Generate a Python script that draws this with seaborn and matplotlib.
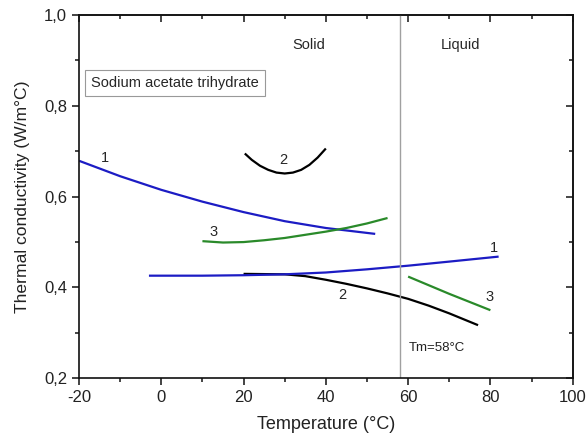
import matplotlib
matplotlib.use("Agg")
import matplotlib.pyplot as plt
import matplotlib.ticker as mticker
import numpy as np
import pandas as pd
import seaborn as sns

# Thermal conductivity of sodium acetate trihydrate vs temperature (three sources)
src1_solid_t = [-20, -10, 0, 10, 20, 30, 40, 52]
src1_solid_k = [0.679, 0.645, 0.615, 0.589, 0.566, 0.546, 0.531, 0.518]

src2_solid_t = [20.3, 22, 24, 26, 28, 30, 32, 34, 36, 38, 40]
src2_solid_k = [0.695, 0.681, 0.668, 0.659, 0.653, 0.651, 0.653, 0.659, 0.670, 0.686, 0.706]

src3_solid_t = [10, 15, 20, 25, 30, 35, 40, 45, 50, 55]
src3_solid_k = [0.502, 0.499, 0.500, 0.504, 0.509, 0.516, 0.523, 0.531, 0.541, 0.553]

src1_liq_t = [-3, 10, 20, 30, 40, 50, 60, 70, 82]
src1_liq_k = [0.426, 0.426, 0.427, 0.429, 0.433, 0.440, 0.448, 0.457, 0.468]

src2_liq_t = [20, 30, 35, 40, 45, 50, 55, 60, 65, 70, 77]
src2_liq_k = [0.430, 0.429, 0.425, 0.417, 0.408, 0.398, 0.387, 0.375, 0.360, 0.343, 0.317]

src3_liq_t = [60, 70, 80]
src3_liq_k = [0.424, 0.386, 0.350]

melting_point = 58

x_ticks = [-20, 0, 20, 40, 60, 80, 100]
y_ticks = [0.2, 0.4, 0.6, 0.8, 1.0]

BLUE = "#1c1cc4"
BLACK = "#000000"
GREEN = "#2a8a2a"

sns.set_style("ticks")
plt.rcParams["font.family"] = ["Liberation Sans", "DejaVu Sans"]
plt.rcParams["axes.linewidth"] = 1.2
plt.rcParams["axes.unicode_minus"] = False

fig = plt.figure(figsize=(5.87, 4.36), dpi=100)
ax = fig.add_axes([0.1346, 0.1323, 0.841, 0.8333])

curves = [
    (src1_solid_t, src1_solid_k, BLUE),
    (src2_solid_t, src2_solid_k, BLACK),
    (src3_solid_t, src3_solid_k, GREEN),
    (src2_liq_t, src2_liq_k, BLACK),
    (src1_liq_t, src1_liq_k, BLUE),
    (src3_liq_t, src3_liq_k, GREEN),
]
for t, k, c in curves:
    df = pd.DataFrame({"T": t, "k": k})
    sns.lineplot(data=df, x="T", y="k", color=c, lw=1.6, ax=ax, sort=False)
for ln in ax.get_lines():
    ln.set_solid_joinstyle("round")
    ln.set_solid_capstyle("butt")

ax.axvline(melting_point, color="#a0a0a0", lw=1.0)

ax.set_xlim(-20, 100)
ax.set_ylim(0.2, 1.0)
ax.set_xticks(x_ticks)
ax.set_yticks(y_ticks)
ax.xaxis.set_minor_locator(mticker.MultipleLocator(10))
ax.yaxis.set_minor_locator(mticker.MultipleLocator(0.1))
ax.yaxis.set_major_formatter(mticker.FuncFormatter(lambda v, p: f"{v:.1f}".replace(".", ",")))
ax.tick_params(which="major", direction="out", length=5, width=1.2, labelsize=12, colors="#222222")
ax.tick_params(which="minor", direction="out", length=3, width=1.2)
for s in ax.spines.values():
    s.set_visible(True)
    s.set_color("#111111")

# inward ticks on top and right
top = ax.secondary_xaxis("top")
top.set_xticks(x_ticks)
top.xaxis.set_minor_locator(mticker.MultipleLocator(10))
top.tick_params(which="both", direction="in", labeltop=False, width=1.2)
top.tick_params(which="major", length=5)
top.tick_params(which="minor", length=3)
right = ax.secondary_yaxis("right")
right.set_yticks(y_ticks)
right.yaxis.set_minor_locator(mticker.MultipleLocator(0.1))
right.tick_params(which="both", direction="in", labelright=False, width=1.2)
right.tick_params(which="major", length=5)
right.tick_params(which="minor", length=3)

ax.set_xlabel("Temperature (°C)", fontsize=13, labelpad=8, color="#222222")
ax.set_ylabel("Thermal conductivity (W/m°C)", fontsize=12.6, labelpad=10, color="#222222")

fs = 10.5
ax.text(-13.7, 0.685, "1", fontsize=fs, ha="center", va="center")
ax.text(29.6, 0.680, "2", fontsize=fs, ha="center", va="center")
ax.text(12.6, 0.522, "3", fontsize=fs, ha="center", va="center")
ax.text(80.9, 0.487, "1", fontsize=fs, ha="center", va="center")
ax.text(44.1, 0.383, "2", fontsize=fs, ha="center", va="center")
ax.text(79.9, 0.378, "3", fontsize=fs, ha="center", va="center")

ax.text(35.9, 0.934, "Solid", fontsize=fs, ha="center", va="center")
ax.text(72.8, 0.934, "Liquid", fontsize=fs, ha="center", va="center")
ax.text(60.2, 0.266, "Tm=58°C", fontsize=9.5, ha="left", va="center", color="#222222")

ax.text(-17.1, 0.850, "Sodium acetate trihydrate", fontsize=10.5, ha="left", va="center",
        bbox=dict(boxstyle="square,pad=0.4", fc="white", ec="#999999", lw=0.8))

fig.savefig("out.png", dpi=100)
